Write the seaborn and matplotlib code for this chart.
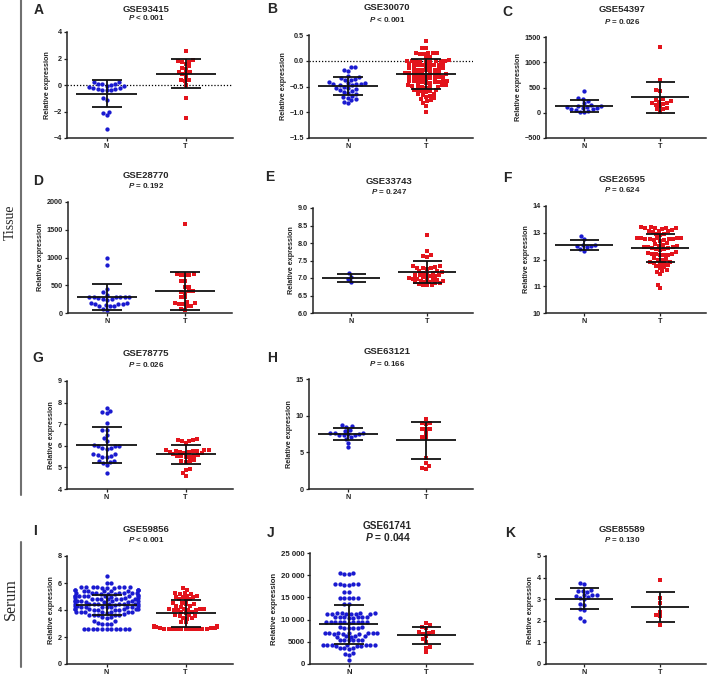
import matplotlib
matplotlib.use('Agg')
import matplotlib.pyplot as plt
import seaborn as sns
from matplotlib.lines import Line2D

sns.set_style('ticks')
plt.rcParams['font.family'] = ['Liberation Sans', 'DejaVu Sans']
plt.rcParams['font.weight'] = 'bold'
plt.rcParams['mathtext.fontset'] = 'custom'
plt.rcParams['mathtext.it'] = 'Liberation Sans:italic:bold'
plt.rcParams['mathtext.rm'] = 'Liberation Sans:bold'

BLUE = '#1a1ad0'
RED = '#e3141c'

# ---------------- data ----------------
gse93415_n = [0.25, 0.2, 0.1, 0.05, 0.05, 0.0, -0.05, -0.1, -0.15, -0.2, -0.25, -0.3, -0.3,
              -0.35, -0.35, -0.4, -0.95, -1.1, -2.05, -2.1, -2.3, -3.3]
gse93415_t = [2.55, 1.85, 1.8, 1.75, 1.7, 1.6, 1.4, 1.3, 1.2, 1.0, 1.0, 0.9, 0.8, 0.6, 0.4,
              0.35, 0.3, 0.0, -0.95, -2.5]

gse30070_n = [-0.12, -0.13, -0.18, -0.2, -0.3, -0.32, -0.33, -0.35, -0.37, -0.38, -0.42, -0.43,
              -0.44, -0.45, -0.45, -0.46, -0.47, -0.48, -0.5, -0.52, -0.53, -0.55, -0.56, -0.58,
              -0.6, -0.62, -0.65, -0.68, -0.7, -0.72, -0.75, -0.77, -0.8, -0.83]
gse30070_t = [0.38,
              0.25, 0.24,
              0.16, 0.15, 0.15, 0.15, 0.14, 0.14,
              0.08, 0.07,
              0.01, 0.0, 0.0, 0.0, 0.0, -0.01, -0.01, -0.02, -0.02, -0.02,
              -0.07, -0.07, -0.08, -0.08, -0.08, -0.09, -0.09, -0.1, -0.1,
              -0.15, -0.15, -0.16, -0.16, -0.17, -0.17, -0.17, -0.18, -0.18,
              -0.23, -0.23, -0.24, -0.24, -0.25, -0.25, -0.25, -0.26, -0.26, -0.27,
              -0.31, -0.31, -0.32, -0.32, -0.33, -0.33, -0.34, -0.34, -0.35,
              -0.39, -0.39, -0.4, -0.4, -0.41, -0.41, -0.42, -0.42, -0.43, -0.43,
              -0.47, -0.48, -0.48, -0.49, -0.49, -0.5, -0.5, -0.51, -0.52,
              -0.56, -0.57, -0.57, -0.58, -0.59, -0.6,
              -0.64, -0.65, -0.66, -0.68, -0.7,
              -0.73, -0.75, -0.77, -0.78,
              -0.82, -0.87, -1.0]

gse54397_n = [430, 300, 280, 230, 200, 150, 140, 130, 120, 110, 100, 90, 80, 70, 60, 40, 20, 20]
gse54397_t = [1300, 640, 455, 430, 265, 255, 240, 220, 200, 200, 180, 150, 130, 100, 80, 65, 20]

gse28770_n = [1000, 860, 440, 370, 330, 290, 285, 285, 280, 280, 280, 275, 250, 245, 240, 180,
              175, 170, 170, 165, 140, 130, 125, 120, 80, 60]
gse28770_t = [1600, 700, 700, 690, 690, 680, 575, 570, 470, 460, 400, 390, 380, 360, 290, 280,
              200, 180, 175, 170, 160, 130, 125, 80, 60]

gse33743_n = [7.15, 7.04, 6.96, 6.88]
gse33743_t = [8.22, 7.78, 7.65, 7.62, 7.6, 7.35, 7.33, 7.32, 7.3, 7.3, 7.28, 7.25, 7.2, 7.2,
              7.18, 7.15, 7.15, 7.12, 7.1, 7.1, 7.08, 7.05, 7.05, 7.02, 7.0, 7.0, 6.98, 6.98,
              6.95, 6.95, 6.92, 6.92, 6.9, 6.9, 6.88, 6.85, 6.85, 6.82, 6.8, 6.8, 6.8]

gse26595_n = [12.88, 12.75, 12.55, 12.55, 12.52, 12.5, 12.45, 12.4, 12.32]
gse26595_t = [13.2, 13.2, 13.19, 13.18, 13.17, 13.16, 13.15,
              13.1, 13.08, 13.07, 13.05, 13.04,
              12.97, 12.95, 12.93,
              12.82, 12.81, 12.8, 12.8, 12.79, 12.78, 12.77, 12.76, 12.75, 12.74, 12.72, 12.7,
              12.6, 12.58, 12.55,
              12.5, 12.5, 12.48, 12.47, 12.45, 12.44, 12.42, 12.4, 12.38, 12.36,
              12.28, 12.25, 12.22, 12.2, 12.2, 12.18, 12.16, 12.15,
              12.05, 12.03, 12.0, 11.98,
              11.92, 11.9, 11.88, 11.87, 11.85,
              11.78, 11.75, 11.72, 11.7,
              11.6, 11.58, 11.55,
              11.45, 11.05, 10.92]

gse78775_n = [7.75, 7.62, 7.55, 7.5, 7.05, 6.75, 6.72, 6.5, 6.35, 6.2, 6.02, 6.0, 6.0, 5.98,
              5.9, 5.88, 5.85, 5.62, 5.6, 5.58, 5.55, 5.5, 5.48, 5.3, 5.28, 5.25, 5.22, 5.1, 4.72]
gse78775_t = [6.3, 6.27, 6.25, 6.22, 6.2, 6.12, 5.82, 5.8, 5.8, 5.78, 5.78, 5.75, 5.72, 5.7,
              5.7, 5.68, 5.65, 5.6, 5.58, 5.55, 5.55, 5.52, 5.5, 5.5, 5.32, 5.3, 5.28, 5.25,
              4.92, 4.9, 4.75, 4.6]

gse63121_n = [8.75, 8.6, 8.5, 8.1, 7.95, 7.7, 7.65, 7.6, 7.55, 7.45, 7.4, 7.35, 7.3, 7.05,
              6.85, 6.3, 5.7]
gse63121_t = [9.6, 9.0, 8.95, 8.85, 8.25, 8.2, 8.2, 7.6, 7.1, 7.05, 4.2, 3.6, 3.1, 2.8, 2.75]

gse59856_n = [6.5,
              6.0, 5.98,
              5.72, 5.71, 5.7, 5.7, 5.69, 5.68, 5.67, 5.66, 5.65, 5.64,
              5.48, 5.47, 5.46, 5.45, 5.45, 5.44, 5.43, 5.42, 5.41, 5.4,
              5.28, 5.27, 5.26, 5.25, 5.25, 5.24, 5.23, 5.22, 5.21, 5.2,
              5.08, 5.07, 5.06, 5.05, 5.05, 5.04, 5.03, 5.02, 5.01, 5.0,
              4.88, 4.87, 4.86, 4.85, 4.85, 4.84, 4.83, 4.82, 4.81, 4.8,
              4.68, 4.67, 4.66, 4.65, 4.65, 4.64, 4.63, 4.62, 4.61, 4.6,
              4.48, 4.47, 4.46, 4.45, 4.45, 4.44, 4.43, 4.42, 4.41, 4.4,
              4.28, 4.27, 4.26, 4.25, 4.25, 4.24, 4.23, 4.22, 4.21, 4.2,
              4.08, 4.07, 4.06, 4.05, 4.05, 4.04, 4.03, 4.02, 4.01, 4.0,
              3.88, 3.87, 3.86, 3.85, 3.84, 3.83, 3.82, 3.8,
              3.68, 3.66, 3.65, 3.64, 3.62, 3.6,
              3.47, 3.45, 3.42,
              3.22, 3.18,
              3.02, 3.0, 2.98, 2.96,
              2.62, 2.62, 2.61, 2.61, 2.6, 2.6, 2.6, 2.59, 2.59, 2.58, 2.58]
gse59856_t = [5.6, 5.5,
              5.28, 5.25, 5.22, 5.2,
              5.05, 5.02, 5.0, 4.98, 4.95,
              4.8, 4.78, 4.75,
              4.55, 4.5, 4.48, 4.45,
              4.3, 4.28, 4.25,
              4.1, 4.08, 4.05, 4.05, 4.03, 4.02, 4.0, 3.98,
              3.85, 3.82, 3.8,
              3.62, 3.6, 3.58, 3.55,
              3.4, 3.38, 3.35,
              3.12, 3.08,
              2.78, 2.78, 2.77, 2.77, 2.76, 2.75, 2.75, 2.74, 2.74, 2.73, 2.72, 2.71, 2.7,
              2.64, 2.63, 2.62, 2.62, 2.61, 2.6, 2.6, 2.6, 2.59, 2.58, 2.58, 2.57, 2.56]

gse61741_n = [20400, 20400, 20350, 20350,
              18000, 18000, 17950, 17950, 17900, 17900,
              16200, 16150,
              14900, 14900, 14850, 14850, 14800,
              13500, 13450,
              11450, 11400, 11400, 11400, 11350, 11350, 11300, 11300, 11250, 11250,
              10600, 10600, 10550, 10550, 10500, 10500, 10450, 10450,
              9550, 9500, 9500, 9450, 9450, 9400, 9400, 9350, 9350, 9300,
              8300, 8250, 8200, 8200, 8150, 8100,
              7050, 7000, 7000, 6950, 6950, 6900, 6900, 6850, 6850, 6800,
              6250, 6200, 6200, 6150, 6100,
              5450, 5400, 5400, 5350, 5300, 5300,
              4350, 4300, 4300, 4250, 4250, 4200, 4200, 4150, 4150, 4100,
              3600, 3500, 3500, 3450,
              2400, 2300, 2000,
              1000]
gse61741_t = [9200, 8700, 8300, 8100, 7200, 7100, 7000, 6700, 6300, 5600, 5000, 3800, 3700, 2800]

gse85589_n = [3.75, 3.72, 3.42, 3.4, 3.4, 3.35, 3.2, 3.2, 3.18, 3.15, 3.08, 3.05, 3.0, 2.78,
              2.72, 2.55, 2.48, 2.12, 2.0]
gse85589_t = [3.9, 3.05, 2.82, 2.42, 2.25, 2.2, 1.82]

# mean and SD bars as drawn in the figure: (mean N, sd N, mean T, sd T)
mean_sd = {
    'GSE93415': (-0.66, 1.0, 0.85, 1.1),
    'GSE30070': (-0.49, 0.175, -0.26, 0.29),
    'GSE54397': (135, 113, 306, 310),
    'GSE28770': (290, 233, 398, 338),
    'GSE33743': (7.0, 0.11, 7.17, 0.31),
    'GSE26595': (12.54, 0.2, 12.44, 0.53),
    'GSE78775': (6.05, 0.83, 5.6, 0.45),
    'GSE63121': (7.5, 0.82, 6.62, 2.56),
    'GSE59856': (4.39, 0.74, 3.75, 1.0),
    'GSE61741': (8900, 4400, 6450, 1950),
    'GSE85589': (3.02, 0.48, 2.64, 0.69),
}

p_labels = ['< 0.001', '< 0.001', '= 0.026', '= 0.192', '= 0.247', '= 0.624',
            '= 0.026', '= 0.166', '< 0.001', '= 0.044', '= 0.130']

yticks = {
    'GSE93415': ([-4, -2, 0, 2, 4], ['\u22124', '\u22122', '0', '2', '4']),
    'GSE30070': ([-1.5, -1.0, -0.5, 0.0, 0.5], ['\u22121.5', '\u22121.0', '\u22120.5', '0.0', '0.5']),
    'GSE54397': ([-500, 0, 500, 1000, 1500], ['\u2212500', '0', '500', '1000', '1500']),
    'GSE28770': ([0, 500, 1000, 1500, 2000], ['0', '500', '1000', '1500', '2000']),
    'GSE33743': ([6.0, 6.5, 7.0, 7.5, 8.0, 8.5, 9.0], ['6.0', '6.5', '7.0', '7.5', '8.0', '8.5', '9.0']),
    'GSE26595': ([10, 11, 12, 13, 14], ['10', '11', '12', '13', '14']),
    'GSE78775': ([4, 5, 6, 7, 8, 9], ['4', '5', '6', '7', '8', '9']),
    'GSE63121': ([0, 5, 10, 15], ['0', '5', '10', '15']),
    'GSE59856': ([0, 2, 4, 6, 8], ['0', '2', '4', '6', '8']),
    'GSE61741': ([0, 5000, 10000, 15000, 20000, 25000], ['0', '5000', '10 000', '15 000', '20 000', '25 000']),
    'GSE85589': ([0, 1, 2, 3, 4, 5], ['0', '1', '2', '3', '4', '5']),
}

panels = [
    ('A', 'GSE93415', gse93415_n, gse93415_t),
    ('B', 'GSE30070', gse30070_n, gse30070_t),
    ('C', 'GSE54397', gse54397_n, gse54397_t),
    ('D', 'GSE28770', gse28770_n, gse28770_t),
    ('E', 'GSE33743', gse33743_n, gse33743_t),
    ('F', 'GSE26595', gse26595_n, gse26595_t),
    ('G', 'GSE78775', gse78775_n, gse78775_t),
    ('H', 'GSE63121', gse63121_n, gse63121_t),
    ('I', 'GSE59856', gse59856_n, gse59856_t),
    ('J', 'GSE61741', gse61741_n, gse61741_t),
    ('K', 'GSE85589', gse85589_n, gse85589_t),
]

# ---------------- layout (pixels) ----------------
W, H = 709, 676
rects = [(67, 32, 166, 106), (309, 35, 164, 103), (546, 37, 160, 101),
         (68, 202, 164, 111), (313, 208, 160, 105), (546, 206, 160, 107),
         (67, 381, 166, 108), (309, 379, 164, 110),
         (67, 556, 166, 108), (310, 553, 163, 111), (546, 556, 160, 108)]
letter_pos = [(39, 10), (272, 9), (507, 12), (38, 181), (270, 177), (507, 178),
              (38, 358), (272, 358), (35, 531), (271, 533), (510, 533)]
# (title offset, P offset) above the axes top, in pixels
text_off = {'A': (23, 14)}

fig = plt.figure(figsize=(W / 100, H / 100), dpi=100)

for i, (letter, gse, n_vals, t_vals) in enumerate(panels):
    l, t, w, h = rects[i]
    ax = fig.add_axes([l / W, 1 - (t + h) / H, w / W, h / H])

    sns.swarmplot(x=['N'] * len(n_vals), y=n_vals, order=['N', 'T'], color=BLUE,
                  marker='o', size=3.1, linewidth=0, warn_thresh=1, ax=ax)
    sns.swarmplot(x=['T'] * len(t_vals), y=t_vals, order=['N', 'T'], color=RED,
                  marker='s', size=2.9, linewidth=0, warn_thresh=1, ax=ax)

    ticks, labels = yticks[gse]
    ax.set_ylim(ticks[0], ticks[-1])
    ax.set_yticks(ticks)
    ax.set_yticklabels(labels)
    ax.set_xlim(-0.5, 1.6)

    if gse in ('GSE93415', 'GSE30070'):
        ax.axhline(0, color='black', lw=0.9, ls=(0, (1, 1.5)), zorder=1)

    mn, sn, mt, st = mean_sd[gse]
    for pos, m, s in [(0, mn, sn), (1, mt, st)]:
        ax.hlines(m, pos - 0.38, pos + 0.38, color='#111111', lw=1.3, zorder=5)
        ax.hlines([m - s, m + s], pos - 0.19, pos + 0.19, color='#111111', lw=1.3, zorder=5)
        ax.vlines(pos, m - s, m + s, color='#111111', lw=1.3, zorder=5)

    sns.despine(ax=ax)
    for side in ('left', 'bottom'):
        ax.spines[side].set_linewidth(1.1)
        ax.spines[side].set_color('#222222')
    big = letter == 'J'
    ax.tick_params(axis='both', labelsize=5.6 if big else 5.2, length=2.2, width=0.9,
                   pad=1.5, colors='#222222')
    ax.set_xlabel('')
    ax.set_ylabel('Relative expression', fontsize=5.6 if big else 5.2, fontweight='bold',
                  labelpad=2)

    t_off, p_off = text_off.get(letter, (27, 16))
    ax.annotate(gse, xy=(0.5, 1), xycoords=('data', 'axes fraction'),
                xytext=(0, t_off * 0.72), textcoords='offset points',
                ha='center', va='center', fontsize=7.2 if big else 6.8, fontweight='bold')
    ax.annotate(r'$\mathit{P}$ ' + p_labels[i], xy=(0.5, 1), xycoords=('data', 'axes fraction'),
                xytext=(0, p_off * 0.72), textcoords='offset points',
                ha='center', va='center', fontsize=7.4 if big else 5.8, fontweight='bold')

    lx, ly = letter_pos[i]
    fig.text(lx / W, 1 - ly / H, letter, ha='center', va='center', fontsize=10, fontweight='bold')

# group brackets on the left
fig.add_artist(Line2D([21 / W, 21 / W], [1 - 0 / H, 1 - 495 / H], color='#707070', lw=1.5))
fig.add_artist(Line2D([21 / W, 21 / W], [1 - 542 / H, 1 - 667 / H], color='#707070', lw=1.5))
fig.text(10 / W, 1 - 222 / H, 'Tissue', rotation=90, ha='center', va='center',
         family='Liberation Serif', fontweight='normal', fontsize=10)
fig.text(11 / W, 1 - 599 / H, 'Serum', rotation=90, ha='center', va='center',
         family='Liberation Serif', fontweight='normal', fontsize=11.5)

fig.savefig('out.png', dpi=100)
